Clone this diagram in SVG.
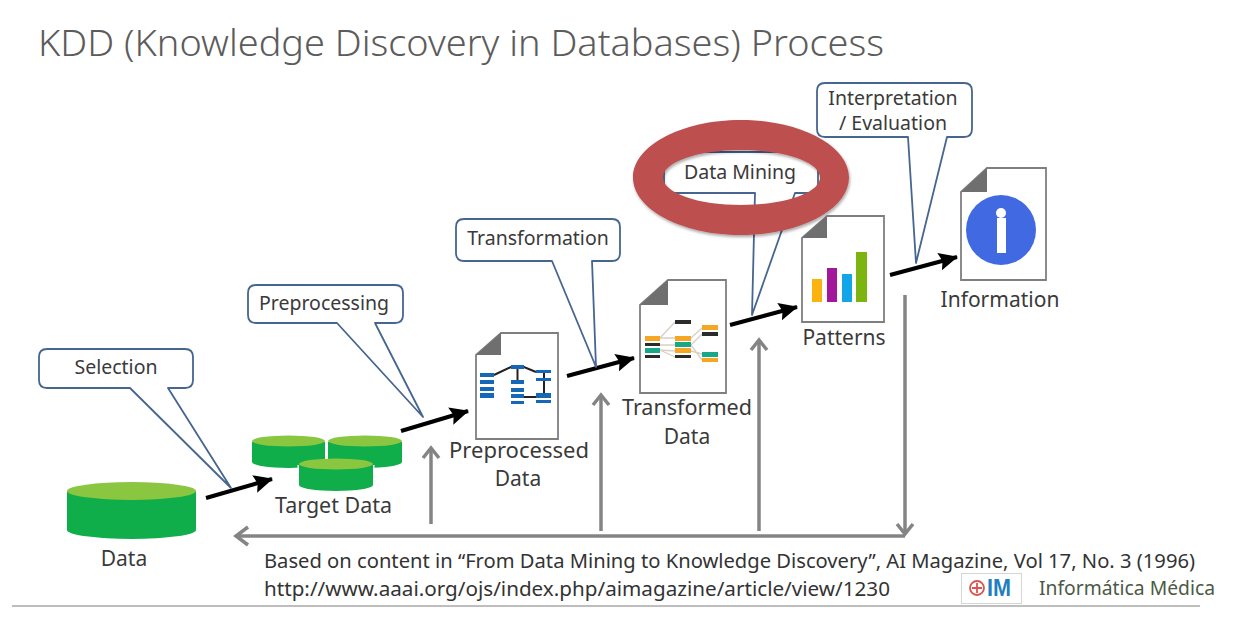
<svg xmlns="http://www.w3.org/2000/svg" width="1248" height="624" viewBox="0 0 1248 624">
<style>
text{font-family:"Noto Sans","Open Sans","DejaVu Sans",sans-serif;fill:#3a3a3a;font-size:21px;text-anchor:middle}
.call{fill:#fff;stroke:#46658f;stroke-width:1.8;stroke-linejoin:round}
.tl{font-size:19.5px}
.doc{fill:#fff;stroke:#7f7f7f;stroke-width:1.8}
.fold{fill:#6f6f6f}
.bk{stroke:#000;stroke-width:4;fill:none;marker-end:url(#ah)}
.gr{stroke:#848484;stroke-width:3.500;fill:none}
.gh{stroke:#848484;stroke-width:3.500;fill:none;stroke-linejoin:miter}
.body{fill:#0fae4b}
.top{fill:#8ac640}
.ln{stroke:#d8d0c4;stroke-width:1.300;fill:none}
.bl{stroke:#222;stroke-width:2;fill:none}
.o{fill:#f5a623}.k{fill:#2b2b2b}.g{fill:#17a88a}.b{fill:#1568b8}
.src{font-size:19.5px;text-anchor:start;fill:#333}
</style>
<defs>
<marker id="ah" markerUnits="userSpaceOnUse" markerWidth="20" markerHeight="20" refX="18" refY="9" orient="auto"><path d="M0 0L19 9L0 18L3 9Z" fill="#000"/></marker>
<filter id="sh" x="-10%" y="-10%" width="120%" height="125%"><feGaussianBlur in="SourceAlpha" stdDeviation="1.500"/><feOffset dx="1" dy="2"/><feComponentTransfer><feFuncA type="linear" slope=".35"/></feComponentTransfer><feMerge><feMergeNode/><feMergeNode in="SourceGraphic"/></feMerge></filter>
</defs>
<rect width="1248" height="624" fill="#fff"/>
<text id="title" x="38" y="56" style="text-anchor:start;font-size:37px;font-weight:300;fill:#5c5c5c" textLength="846" lengthAdjust="spacingAndGlyphs">KDD (Knowledge Discovery in Databases) Process</text>

<g id="connectors">
<path class="bk" d="M206 498L272 479"/>
<path class="bk" d="M401 431L468 411"/>
<path class="bk" d="M567 376L634 358"/>
<path class="bk" d="M730 325L797 307"/>
<path class="bk" d="M890 275L957 257"/>
<path class="gr" d="M905 536H236"/><path class="gh" d="M248 527L236 536L248 545"/>
<path class="gr" d="M431 524V449"/><path class="gh" d="M423 458L431 448L439 458"/>
<path class="gr" d="M601 531V396"/><path class="gh" d="M593 405L601 395L609 405"/>
<path class="gr" d="M759 531V341"/><path class="gh" d="M751 350L759 340L767 350"/>
<path class="gr" d="M905 295V534"/><path class="gh" d="M897 524L905 534L913 524"/>
</g>

<g id="selection"><path class="call" d="M47 349H185Q193 349 193 357V380Q193 388 185 388H168L231 488L130 388H47Q39 388 39 380V357Q39 349 47 349Z"/><text class="tl" x="116" y="374">Selection</text></g>
<g id="preprocessing"><path class="call" d="M256 285H395Q403 285 403 293V315Q403 323 395 323H375L423 417L337 323H256Q248 323 248 315V293Q248 285 256 285Z"/><text class="tl" x="324" y="310">Preprocessing</text></g>
<g id="transformation"><path class="call" d="M464 219H612Q620 219 620 227V253Q620 261 612 261H592L596 367L552 261H464Q456 261 456 253V227Q456 219 464 219Z"/><text class="tl" x="538" y="245">Transformation</text></g>
<g id="interpretation"><path class="call" d="M825 83H964Q972 83 972 91V129Q972 137 964 137H947L916 263L908 137H825Q817 137 817 129V91Q817 83 825 83Z"/><text class="tl" x="893" y="105">Interpretation</text><text class="tl" x="893" y="130" textLength="108" lengthAdjust="spacingAndGlyphs">/ Evaluation</text></g>

<g id="data-mining">
<path class="call" d="M672 152H810Q818 152 818 160V185Q818 193 810 193H795L752 315L755 193H672Q664 193 664 185V160Q664 152 672 152Z"/>
<text class="tl" x="740" y="179">Data Mining</text>
<path d="M741 120C801 120 849 146 849 177.500C849 209 801 235 741 235C681 235 633 209 633 177.500C633 146 681 120 741 120ZM741 150C698 150 663 162 663 177.500C663 193 698 205 741 205C784 205 820 193 820 177.500C820 162 784 150 741 150Z" fill="#bd4f4f" fill-rule="evenodd" filter="url(#sh)"/>
</g>

<g id="data"><path class="body" d="M67 491V530A64.500 9 0 0 0 196 530V491Z"/><ellipse class="top" cx="131.500" cy="491" rx="64.500" ry="9"/><text x="124" y="566">Data</text></g>
<g id="target-data">
<path class="body" d="M252 442V462A36.500 6 0 0 0 325 462V442Z"/><ellipse class="top" cx="288.500" cy="441" rx="36.500" ry="5.500"/>
<path class="body" d="M328 442V462A37 6 0 0 0 402 462V442Z"/><ellipse class="top" cx="365" cy="441" rx="37" ry="5.500"/>
<path d="M297.500 465V486A37.500 7 0 0 0 374.500 486V465Z" fill="#fff"/>
<path class="body" d="M299 465V485A37 6 0 0 0 373 485V465Z"/><ellipse class="top" cx="336" cy="464" rx="37" ry="5.500"/>
<text x="333.500" y="513" textLength="117" lengthAdjust="spacingAndGlyphs">Target Data</text>
</g>

<g id="preprocessed-data">
<path class="doc" d="M476 355L501 333H558V439H476Z"/><path class="fold" d="M476 355L501 333V355Z"/>
<path class="bl" d="M494 375L511 367H524L536 372M517.500 369V380M544 373V393M524 397H536"/>
<g class="b"><rect x="480" y="373" width="14" height="4"/><rect x="480" y="380" width="14" height="4"/><rect x="480" y="387" width="14" height="4"/><rect x="480" y="393" width="14" height="5"/><rect x="511" y="365" width="13" height="4"/><rect x="511" y="380" width="13" height="4"/><rect x="511" y="388" width="13" height="4"/><rect x="511" y="394" width="13" height="4"/><rect x="511" y="401" width="13" height="3"/><rect x="536" y="370" width="15" height="3"/><rect x="536" y="378" width="15" height="3"/><rect x="536" y="393" width="15" height="5"/><rect x="536" y="400" width="15" height="3"/></g>
<text x="519" y="458" textLength="140" lengthAdjust="spacingAndGlyphs">Preprocessed</text><text x="518" y="486">Data</text>
</g>

<g id="transformed-data">
<path class="doc" d="M640 305L668 280H726V393H640Z"/><path class="fold" d="M640 305L668 280V305Z"/>
<path class="ln" d="M660 338L675 322M660 338H675M660 345L675 345M660 350L675 351M660 350L675 357M691 338L702 328M691 345L702 334M691 351L702 354M691 345L702 360"/>
<rect class="o" x="645" y="336" width="15" height="5"/><rect class="k" x="645" y="343" width="15" height="3"/><rect class="g" x="645" y="348" width="15" height="5"/><rect class="k" x="645" y="355" width="15" height="3"/>
<rect class="k" x="675" y="320" width="16" height="4"/><rect class="o" x="675" y="336" width="16" height="5"/><rect class="g" x="675" y="342" width="16" height="5"/><rect class="o" x="675" y="348" width="16" height="5"/><rect class="k" x="675" y="355" width="16" height="3"/>
<rect class="o" x="702" y="325" width="16" height="5"/><rect class="k" x="702" y="332" width="16" height="4"/><rect class="g" x="702" y="352" width="16" height="5"/><rect class="o" x="702" y="358" width="16" height="4"/>
<text x="687" y="415" textLength="130" lengthAdjust="spacingAndGlyphs">Transformed</text><text x="687" y="444">Data</text>
</g>

<g id="patterns">
<path class="doc" d="M802 238L827 216H884V322H802Z"/><path class="fold" d="M802 238L827 216V238Z"/>
<rect x="812" y="279" width="10" height="23" fill="#fbb40f"/><rect x="827" y="268" width="10" height="34" fill="#a3189a"/><rect x="842" y="274" width="10" height="28" fill="#12a5e8"/><rect x="856" y="252" width="11" height="50" fill="#7cb50f"/>
<text x="844" y="345">Patterns</text>
</g>

<g id="information">
<path class="doc" d="M961 192L987 168H1046V280H961Z"/><path class="fold" d="M961 192L987 168V192Z"/>
<circle cx="1001" cy="230" r="35" fill="#4169e1"/><circle cx="1001" cy="213" r="5" fill="#fff"/><rect x="997" y="218" width="9" height="35" fill="#fff"/>
<text x="1000" y="307">Information</text>
</g>

<text class="src" x="264" y="568" textLength="931" lengthAdjust="spacingAndGlyphs">Based on content in “From Data Mining to Knowledge Discovery”, AI Magazine, Vol 17, No. 3 (1996)</text>
<text class="src" x="264" y="596" textLength="626" lengthAdjust="spacingAndGlyphs">http://www.aaai.org/ojs/index.php/aimagazine/article/view/1230</text>

<g id="logo">
<rect x="961.500" y="573.500" width="60" height="30" fill="#fff" stroke="#d5d5d5"/>
<circle cx="977" cy="588" r="7" fill="none" stroke="#d9534f" stroke-width="1.800"/><path d="M972 588H982M977 583V593" stroke="#d9534f" stroke-width="1.800"/>
<text x="999" y="596" style="font-family:'Liberation Sans',sans-serif;font-size:23px;font-weight:700;fill:#1f7fc0" textLength="24" lengthAdjust="spacingAndGlyphs">IM</text>
<text x="1039" y="595" style="text-anchor:start;font-size:19px;fill:#4c5a44" textLength="176" lengthAdjust="spacingAndGlyphs">Informática Médica</text>
</g>
<path d="M12 606H1200" stroke="#a8a8a8" stroke-width="1.500"/>
</svg>
